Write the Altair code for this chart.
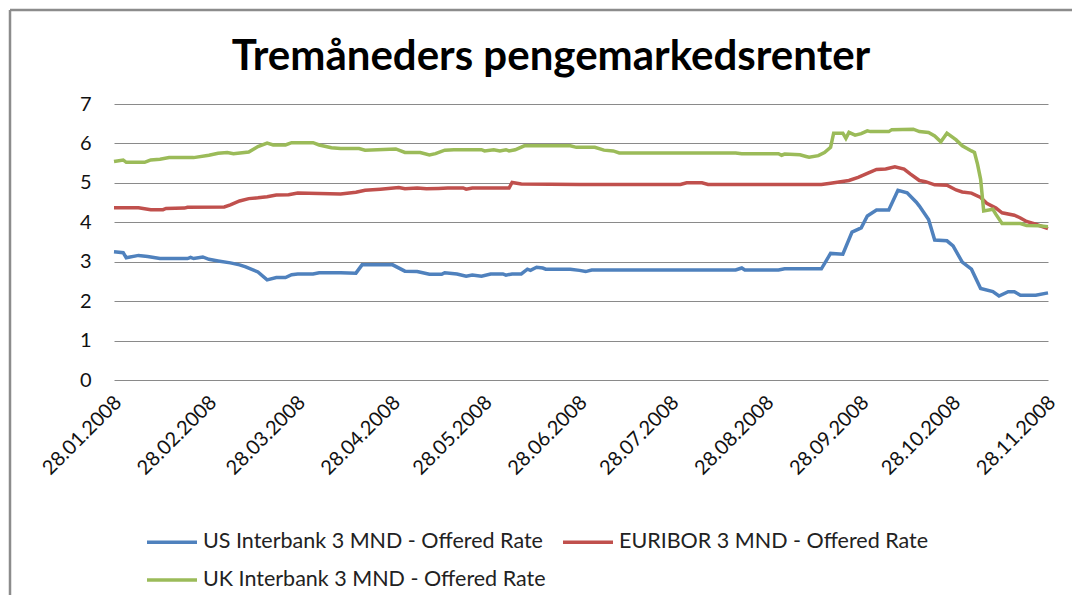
import altair as alt
import pandas as pd

START = "2008-01-28"

series_names = [
    "US Interbank 3 MND - Offered Rate",
    "EURIBOR 3 MND - Offered Rate",
    "UK Interbank 3 MND - Offered Rate",
]
series_colors = ["#4F81BD", "#C0504D", "#9BBB59"]

# day offsets from 28.01.2008, values in percent
us_days = [0, 3, 4, 8, 11, 15, 24, 25, 26, 29, 31, 34, 38, 41, 43, 47, 50, 53, 56, 58,
           60, 65, 67, 74, 79, 81, 91, 95, 99, 103, 107, 108, 112, 115, 117, 120, 123, 127, 128, 130,
           133, 135, 136, 138, 140, 141, 149, 152, 154, 156, 203, 205, 206, 217, 219, 231, 234, 238, 241, 244,
           246, 249, 253, 256, 259, 262, 263, 266, 268, 272, 274, 277, 280, 283, 287, 289, 292, 294, 296, 301,
           305]
us_vals = [3.25, 3.23, 3.10, 3.16, 3.13, 3.08, 3.08, 3.11, 3.08, 3.12, 3.06, 3.02, 2.97, 2.92, 2.87, 2.74, 2.54, 2.60, 2.60, 2.67,
           2.69, 2.69, 2.72, 2.72, 2.71, 2.92, 2.92, 2.76, 2.75, 2.68, 2.68, 2.72, 2.69, 2.63, 2.66, 2.63, 2.69, 2.69, 2.66, 2.69,
           2.69, 2.81, 2.78, 2.86, 2.84, 2.81, 2.81, 2.78, 2.75, 2.79, 2.79, 2.84, 2.79, 2.79, 2.82, 2.82, 3.21, 3.19, 3.75, 3.86,
           4.16, 4.31, 4.31, 4.81, 4.75, 4.51, 4.41, 4.07, 3.55, 3.53, 3.40, 2.99, 2.81, 2.32, 2.24, 2.13, 2.24, 2.24, 2.15, 2.15,
           2.21]

eur_days = [0, 8, 12, 16, 17, 23, 24, 36, 38, 41, 44, 47, 50, 53, 57, 60, 74, 79, 82, 87,
            93, 95, 99, 102, 106, 109, 114, 115, 117, 129, 130, 133, 152, 185, 187, 192, 194, 231, 234, 240,
            243, 246, 249, 252, 255, 258, 260, 263, 265, 268, 272, 275, 277, 280, 283, 285, 288, 290, 294, 296,
            298, 301, 305]
eur_vals = [4.37, 4.37, 4.32, 4.32, 4.35, 4.36, 4.38, 4.39, 4.44, 4.54, 4.60, 4.62, 4.65, 4.69, 4.70, 4.74, 4.72, 4.76, 4.81, 4.84,
            4.88, 4.85, 4.87, 4.85, 4.86, 4.87, 4.87, 4.84, 4.87, 4.87, 5.01, 4.97, 4.96, 4.96, 5.00, 5.00, 4.96, 4.96, 4.99, 5.06,
            5.14, 5.24, 5.34, 5.35, 5.41, 5.35, 5.23, 5.06, 5.03, 4.95, 4.94, 4.82, 4.77, 4.74, 4.63, 4.48, 4.36, 4.24, 4.18, 4.11,
            4.02, 3.95, 3.84]

uk_days = [0, 3, 4, 10, 11, 12, 15, 18, 26, 31, 34, 37, 39, 44, 47, 50, 52, 56, 58, 65,
           67, 71, 74, 80, 82, 92, 95, 100, 103, 105, 108, 111, 120, 121, 124, 126, 128, 129, 131, 134,
           149, 151, 157, 160, 163, 165, 203, 205, 217, 218, 219, 224, 226, 227, 230, 232, 234, 235, 238, 239,
           240, 242, 244, 246, 247, 253, 254, 261, 263, 266, 268, 270, 272, 275, 277, 280, 281, 282, 283, 284,
           287, 288, 290, 296, 298, 302, 305]
uk_vals = [5.54, 5.58, 5.52, 5.52, 5.55, 5.58, 5.60, 5.64, 5.64, 5.70, 5.75, 5.77, 5.74, 5.78, 5.92, 6.01, 5.96, 5.96, 6.02, 6.02,
           5.96, 5.89, 5.87, 5.87, 5.83, 5.86, 5.77, 5.77, 5.71, 5.74, 5.83, 5.84, 5.84, 5.81, 5.84, 5.81, 5.84, 5.81, 5.84, 5.94,
           5.94, 5.90, 5.90, 5.83, 5.81, 5.76, 5.76, 5.74, 5.74, 5.70, 5.73, 5.71, 5.67, 5.65, 5.69, 5.77, 5.90, 6.26, 6.26, 6.13,
           6.28, 6.21, 6.25, 6.32, 6.30, 6.30, 6.35, 6.36, 6.30, 6.28, 6.19, 6.04, 6.26, 6.09, 5.94, 5.81, 5.77, 5.47, 5.09, 4.29,
           4.33, 4.20, 3.97, 3.97, 3.92, 3.91, 3.89]

tick_months = [1, 2, 3, 4, 5, 6, 7, 8, 9, 10, 11]
y_ticks = [0, 1, 2, 3, 4, 5, 6, 7]

start = pd.Timestamp(START)
rows = []
for name, days, vals in zip(series_names, [us_days, eur_days, uk_days], [us_vals, eur_vals, uk_vals]):
    for d, v in zip(days, vals):
        rows.append({
            "date": (start + pd.Timedelta(days=d)).strftime("%Y-%m-%dT00:00:00"),
            "rate": v,
            "series": name,
        })
df = pd.DataFrame(rows)

FONT = "Lato"
tick_values = [alt.DateTime(year=2008, month=m, date=28) for m in tick_months]

lines = alt.Chart(df).mark_line(strokeWidth=3.5, interpolate="linear").encode(
    x=alt.X(
        "date:T",
        scale=alt.Scale(domain=[alt.DateTime(year=2008, month=1, date=28),
                                alt.DateTime(year=2008, month=11, date=28)]),
        axis=alt.Axis(values=tick_values, format="%d.%m.%Y", labelAngle=-45,
                      labelAlign="right", labelBaseline="middle", grid=False,
                      ticks=False, domain=False, labelPadding=19, labelOffset=4,
                      labelFontSize=20, labelFont=FONT, labelColor="#111111",
                      title=None, labelOverlap=False),
    ),
    y=alt.Y(
        "rate:Q",
        scale=alt.Scale(domain=[0, 7], nice=False),
        axis=alt.Axis(values=y_ticks, grid=True, gridColor="#8a8a8a", gridWidth=1,
                      domain=False, ticks=False, labelPadding=23, labelFontSize=20,
                      labelFont=FONT, labelColor="#111111", title=None),
    ),
    color=alt.Color(
        "series:N",
        scale=alt.Scale(domain=series_names, range=series_colors),
        sort=series_names,
        legend=alt.Legend(orient="none", legendX=31, legendY=411, columns=2,
                          direction="horizontal",
                          symbolType="stroke", symbolSize=2500, symbolStrokeWidth=3.5,
                          title=None, labelFontSize=21.5, labelFont=FONT, labelColor="#222222",
                          columnPadding=10, rowPadding=-12, labelOffset=4, labelLimit=500),
    ),
)

frame = alt.Chart(pd.DataFrame({"k": [0]})).mark_rule(color="#8c8c8c", strokeWidth=2.5).encode(
    x=alt.value(-104), x2=alt.value(960), y=alt.value(-94)
)
frame_left = alt.Chart(pd.DataFrame({"k": [0]})).mark_rule(color="#8c8c8c", strokeWidth=2.5).encode(
    x=alt.value(-104), y=alt.value(-94), y2=alt.value(495)
)

chart = alt.layer(frame, frame_left, lines).properties(
    width=934,
    height=276,
    autosize=alt.AutoSizeParams(type="none"),
    padding={"left": 106, "top": 96, "right": 24, "bottom": 215},
    title=alt.TitleParams("Tremåneders pengemarkedsrenter", font=FONT, fontSize=42,
                          fontWeight="bold", color="#000000", anchor="middle", dx=-30,
                          offset=0, dy=70),
).configure_view(stroke=None)

chart.save("out.html", embed_options={"renderer": "svg", "actions": False})
